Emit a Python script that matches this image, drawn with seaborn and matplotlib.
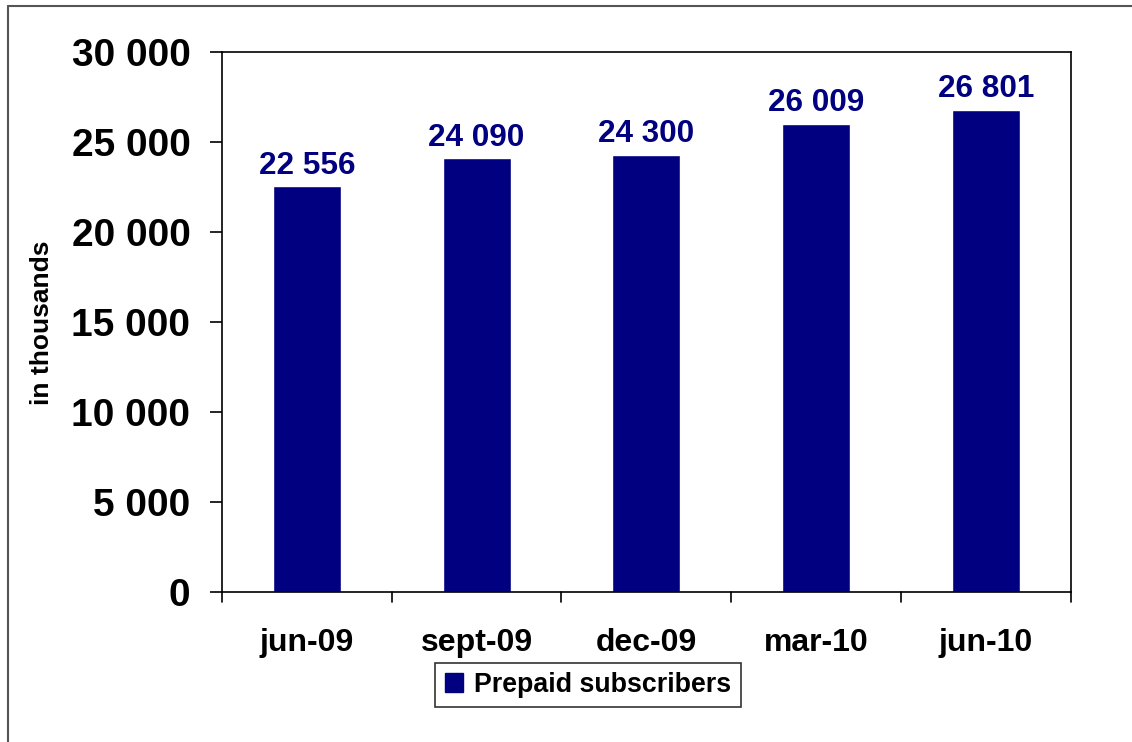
import matplotlib
matplotlib.use("Agg")
import matplotlib.pyplot as plt
import seaborn as sns
import pandas as pd
from matplotlib.lines import Line2D
from matplotlib.patches import Patch

# ---- data ------------------------------------------------------------------
periods = ["jun-09", "sept-09", "dec-09", "mar-10", "jun-10"]
subscribers = [22556, 24090, 24300, 26009, 26801]
series_name = "Prepaid subscribers"
yticks = [0, 5000, 10000, 15000, 20000, 25000, 30000]

df = pd.DataFrame({"period": periods, "value": subscribers})

sns.set_theme(style="white")
plt.rcParams["font.family"] = ["Liberation Sans", "DejaVu Sans"]
plt.rcParams["font.weight"] = "bold"
plt.rcParams["text.color"] = "black"
plt.rcParams["xtick.color"] = "black"
plt.rcParams["ytick.color"] = "black"
plt.rcParams["axes.labelcolor"] = "black"

NAVY = "#000080"

fig = plt.figure(figsize=(11.32, 7.42), dpi=100)
ax = fig.add_axes([0.196, 0.202, 0.750, 0.728])

sns.barplot(data=df, x="period", y="value", color=NAVY, width=0.4,
            saturation=1, ax=ax)

ax.set_ylim(0, 30000)
ax.set_xlim(-0.5, len(periods) - 0.5)


def fmt(v):
    return f"{v:,}".replace(",", " ")


ax.set_yticks(yticks)
ax.set_yticklabels([fmt(v) for v in yticks], fontsize=28, fontweight="bold")
ax.set_xticks(range(len(periods)))
ax.set_xticklabels(periods, fontsize=23, fontweight="bold")
ax.tick_params(axis="x", length=0, pad=26)
ax.tick_params(axis="y", length=8.6, width=1.2, color="black", direction="out",
               left=True, pad=14)

# category boundary ticks on the x axis
for b in [i + 0.5 for i in range(-1, len(periods))]:
    ax.add_line(Line2D([b, b], [0, -0.019], transform=ax.get_xaxis_transform(),
                       color="black", lw=1.2, clip_on=False))

for s in ax.spines.values():
    s.set_color("black")
    s.set_linewidth(1.2)
    s.set_visible(True)

ax.set_xlabel("")
ax.set_ylabel("in thousands", fontsize=19, fontweight="bold")
ax.yaxis.set_label_coords((54 - 222) / 849, (592 - 323) / 540)

for i, v in enumerate(subscribers):
    ax.text(i, v + 300, fmt(v), ha="center", va="bottom", color=NAVY,
            fontsize=22.7, fontweight="bold")

leg = fig.legend(handles=[Patch(color=NAVY, label=series_name)],
                 loc="center", bbox_to_anchor=(588 / 1132, 1 - 685 / 742),
                 frameon=True, fancybox=False,
                 prop={"weight": "bold", "size": 19.3},
                 handlelength=0.7, handleheight=0.7, handletextpad=0.4,
                 borderpad=0.35, edgecolor="black")
leg.get_frame().set_linewidth(1.2)

# outer chart frame (left and top edges visible)
fig.add_artist(Line2D([8 / 1132, 8 / 1132], [0, 1 - 6 / 742],
                      transform=fig.transFigure, color="#555555", lw=1.5))
fig.add_artist(Line2D([8 / 1132, 1], [1 - 6 / 742, 1 - 6 / 742],
                      transform=fig.transFigure, color="#555555", lw=1.5))

fig.savefig("out.png", dpi=100, facecolor="white")
